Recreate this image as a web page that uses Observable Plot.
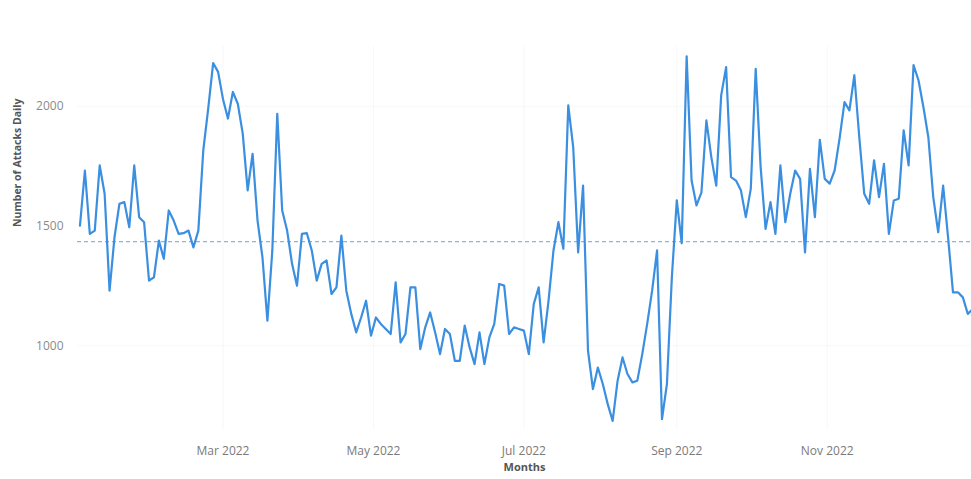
<!DOCTYPE html>
<html>
<head>
<meta charset="utf-8">
<script src="https://cdn.jsdelivr.net/npm/d3@7"></script>
<script src="https://cdn.jsdelivr.net/npm/@observablehq/plot@0.6"></script>
<style>
  body { margin: 0; background: #fff; }
  #chart svg { display: block; }
</style>
</head>
<body>
<div id="chart"></div>
<script>
// Daily attack counts, sampled every other day through 2022
const dates = [
  "2022-01-02","2022-01-04","2022-01-06","2022-01-08","2022-01-10","2022-01-12","2022-01-14","2022-01-16","2022-01-18","2022-01-20","2022-01-22","2022-01-24","2022-01-26","2022-01-28","2022-01-30",
  "2022-02-01","2022-02-03","2022-02-05","2022-02-07","2022-02-09","2022-02-11","2022-02-13","2022-02-15","2022-02-17","2022-02-19","2022-02-21","2022-02-23","2022-02-25","2022-02-27",
  "2022-03-01","2022-03-03","2022-03-05","2022-03-07","2022-03-09","2022-03-11","2022-03-13","2022-03-15","2022-03-17","2022-03-19","2022-03-21","2022-03-23","2022-03-25","2022-03-27","2022-03-29","2022-03-31",
  "2022-04-02","2022-04-04","2022-04-06","2022-04-08","2022-04-10","2022-04-12","2022-04-14","2022-04-16","2022-04-18","2022-04-20","2022-04-22","2022-04-24","2022-04-26","2022-04-28","2022-04-30",
  "2022-05-02","2022-05-04","2022-05-06","2022-05-08","2022-05-10","2022-05-12","2022-05-14","2022-05-16","2022-05-18","2022-05-20","2022-05-22","2022-05-24","2022-05-26","2022-05-28","2022-05-30",
  "2022-06-01","2022-06-03","2022-06-05","2022-06-07","2022-06-09","2022-06-11","2022-06-13","2022-06-15","2022-06-17","2022-06-19","2022-06-21","2022-06-23","2022-06-25","2022-06-27","2022-06-29",
  "2022-07-01","2022-07-03","2022-07-05","2022-07-07","2022-07-09","2022-07-11","2022-07-13","2022-07-15","2022-07-17","2022-07-19","2022-07-21","2022-07-23","2022-07-25","2022-07-27","2022-07-29","2022-07-31",
  "2022-08-02","2022-08-04","2022-08-06","2022-08-08","2022-08-10","2022-08-12","2022-08-14","2022-08-16","2022-08-18","2022-08-20","2022-08-22","2022-08-24","2022-08-26","2022-08-28","2022-08-30",
  "2022-09-01","2022-09-03","2022-09-05","2022-09-07","2022-09-09","2022-09-11","2022-09-13","2022-09-15","2022-09-17","2022-09-19","2022-09-21","2022-09-23","2022-09-25","2022-09-27","2022-09-29",
  "2022-10-01","2022-10-03","2022-10-05","2022-10-07","2022-10-09","2022-10-11","2022-10-13","2022-10-15","2022-10-17","2022-10-19","2022-10-21","2022-10-23","2022-10-25","2022-10-27","2022-10-29","2022-10-31",
  "2022-11-02","2022-11-04","2022-11-06","2022-11-08","2022-11-10","2022-11-12","2022-11-14","2022-11-16","2022-11-18","2022-11-20","2022-11-22","2022-11-24","2022-11-26","2022-11-28","2022-11-30",
  "2022-12-02","2022-12-04","2022-12-06","2022-12-08","2022-12-10","2022-12-12","2022-12-14","2022-12-16","2022-12-18","2022-12-20","2022-12-22","2022-12-24","2022-12-26","2022-12-28","2022-12-30"
];

const attacks = [
  1502,1732,1467,1481,1753,1635,1230,1453,1593,1600,1495,1753,1537,1516,1272,
  1286,1439,1363,1565,1523,1467,1470,1481,1411,1481,1816,1990,2181,2144,
  2030,1949,2060,2011,1886,1649,1802,1523,1369,1105,1398,1969,1565,1481,1342,1251,
  1467,1470,1398,1272,1342,1356,1216,1244,1460,1230,1133,1056,1118,1188,1042,
  1118,1091,1070,1049,1265,1014,1049,1244,1244,986,1077,1139,1056,965,1070,
  1049,937,937,1084,993,923,1056,923,1035,1091,1258,1251,1049,1077,1070,
  1063,965,1174,1244,1014,1188,1398,1516,1405,2004,1830,1390,1669,979,819,909,
  840,756,686,854,951,882,847,854,965,1091,1230,1398,693,840,1286,
  1607,1428,2209,1690,1586,1641,1941,1788,1669,2046,2164,1704,1690,1649,1537,
  1655,2157,1746,1488,1600,1467,1753,1516,1635,1732,1697,1390,1739,1537,1860,1697,
  1677,1732,1865,2018,1983,2130,1871,1635,1593,1774,1621,1760,1467,1607,1614,
  1900,1753,2172,2109,1997,1871,1621,1474,1669,1453,1223,1223,1202,1133,1153
];

// Average daily attacks (dashed reference line)
const averageDaily = 1435;

const yTicks = [1000, 1500, 2000];
const monthTicks = ["2022-03-01", "2022-05-01", "2022-07-01", "2022-09-01", "2022-11-01"];
const xDomain = ["2022-01-01T00:00Z", "2022-12-29T12:00Z"];

const series = dates.map((d, i) => ({date: new Date(d), value: attacks[i]}));
const tickDates = monthTicks.map(d => new Date(d));

const chart = Plot.plot({
  width: 971,
  height: 479,
  marginLeft: 77,
  marginRight: 0,
  marginTop: 46,
  marginBottom: 50,
  style: {fontFamily: "'Open Sans', 'Noto Sans', sans-serif", background: "#fff", overflow: "visible"},
  x: {type: "utc", domain: xDomain.map(d => new Date(d))},
  y: {domain: [650, 2250]},
  marks: [
    Plot.gridX(tickDates, {stroke: "#000", strokeOpacity: 0.03}),
    Plot.gridY([1000, 2000], {stroke: "#000", strokeOpacity: 0.03}),
    Plot.axisY(yTicks, {tickSize: 0, tickPadding: 14, fontSize: 12, color: "#8a8a8a", tickFormat: d3.format("d"), label: null}),
    Plot.axisX(tickDates, {tickSize: 0, tickPadding: 17, fontSize: 12, color: "#7a7a7a", tickFormat: d3.utcFormat("%b %Y"), label: null}),
    Plot.ruleY([averageDaily], {stroke: "#7fb9e8", strokeWidth: 1.3, strokeDasharray: "4,3"}),
    Plot.line(series, {x: "date", y: "value", stroke: "#3b8fe0", strokeWidth: 2.2, clip: true}),
    Plot.text(["Number of Attacks Daily"], {frameAnchor: "left", rotate: -90, dx: -60, dy: -11, fontSize: 10.5, fontWeight: "bold", fill: "#555"}),
    Plot.text(["Months"], {frameAnchor: "bottom", dy: 41, fontSize: 11, fontWeight: "bold", fill: "#555"})
  ]
});

document.getElementById("chart").append(chart);
</script>
</body>
</html>
